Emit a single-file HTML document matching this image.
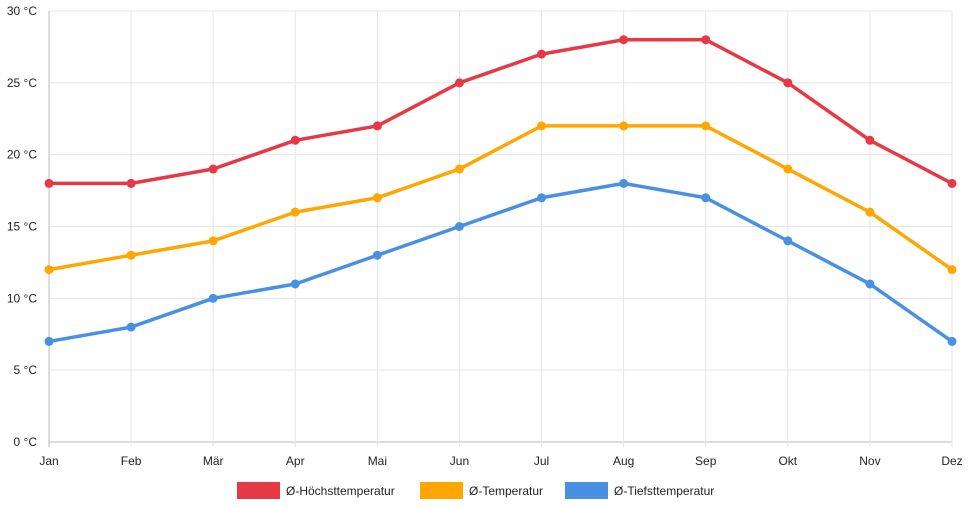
<!DOCTYPE html>
<html><head><meta charset="utf-8"><style>
body{margin:0;background:#fff;}
svg{display:block;font-family:"Liberation Sans",sans-serif;}
</style></head><body>
<svg id="chart" width="968" height="508"></svg>
<script>
const months=["Jan","Feb","Mär","Apr","Mai","Jun","Jul","Aug","Sep","Okt","Nov","Dez"];
const highTemps=[18,18,19,21,22,25,27,28,28,25,21,18];
const avgTemps=[12,13,14,16,17,19,22,22,22,19,16,12];
const lowTemps=[7,8,10,11,13,15,17,18,17,14,11,7];
const yTicks=[0,5,10,15,20,25,30];
const seriesNames=["Ø-Höchsttemperatur","Ø-Temperatur","Ø-Tiefsttemperatur"];

const NS="http://www.w3.org/2000/svg";
const svg=document.getElementById('chart');
const x0=49,x1=952,yTop=11,yBot=442;
function xs(i){return x0+(x1-x0)*i/(months.length-1);}
function ys(v){return yBot-(yBot-yTop)*v/30;}
function mk(tag,attrs,parent){const e=document.createElementNS(NS,tag);for(const k in attrs)e.setAttribute(k,attrs[k]);(parent||svg).appendChild(e);return e;}

const grid=mk('g',{});


yTicks.forEach(v=>{
  const l=mk('line',{x1:x0,x2:x1,y1:ys(v),y2:ys(v),stroke:v===0?'#bbb':'#e5e5e5','stroke-width':1},grid);
  
  
  const t=mk('text',{x:37,y:ys(v)+4,'text-anchor':'end','font-size':12,fill:'#222'});
  t.textContent=v+' °C';
  
  
});
months.forEach((m,i)=>{
  const l=mk('line',{x1:xs(i),x2:xs(i),y1:yTop,y2:yBot+5,stroke:i===0?'#bbb':'#e5e5e5','stroke-width':1},grid);
  
  
  const t=mk('text',{x:xs(i),y:465,'text-anchor':'middle','font-size':12,fill:'#222'});
  t.textContent=m;
  
  
});

const series=[[highTemps,'#e63946'],[avgTemps,'#ffa600'],[lowTemps,'#4a90e2']];
series.forEach(([data,col],si)=>{
  const g=mk('g',{});
  
  
  const p=mk('polyline',{points:data.map((v,i)=>xs(i)+','+ys(v)).join(' '),fill:'none',stroke:col,'stroke-width':3.5,'stroke-linejoin':'round'},g);
  
  
  data.forEach((v,i)=>{
    const c=mk('circle',{cx:xs(i),cy:ys(v),r:4.5,fill:col},g);
    
    
  });
});

const legX=[237,420,565];
const leg=mk('g',{});


series.forEach(([d,col],i)=>{
  const r=mk('rect',{x:legX[i],y:482,width:43,height:17,fill:col},leg);
  
  
  const t=mk('text',{x:legX[i]+49,y:495,'font-size':12,fill:'#222'},leg);
  t.textContent=seriesNames[i];
  
  
});
</script>
</body></html>
